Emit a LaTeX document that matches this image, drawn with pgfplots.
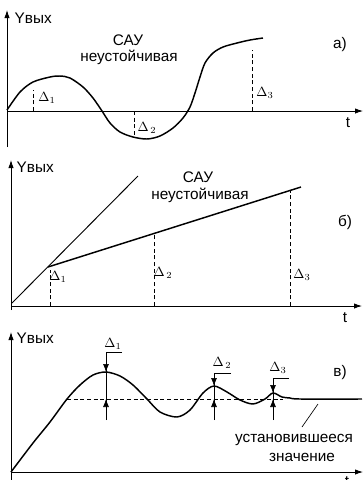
\documentclass[border=0pt]{standalone}
\usepackage{fontspec}
\setmainfont{Liberation Sans}
\usepackage{pgfplots}
\pgfplotsset{compat=1.18}
\usetikzlibrary{arrows.meta}
\pgfplotsset{
  panel/.style={x=0.75pt, y=0.75pt, axis lines=middle, ticks=none, clip=false,
    enlargelimits=false, anchor=south west,
    axis line style={line width=0.6pt, -{Latex[length=6pt,width=4pt]}}},
  curve/.style={line width=1.1pt, black, smooth},
  dsh/.style={line width=0.5pt, black, dash pattern=on 3pt off 2pt},
}
\tikzset{
  lbl/.style={font=\fontsize{11.5}{13}\selectfont},
  dl/.style={font=\fontsize{10}{11}\selectfont},
}
\begin{document}
\begin{tikzpicture}
\useasboundingbox (0,0) rectangle (273pt,-360pt);
% ---------- panel a ----------
\begin{axis}[panel, at={(5.25pt,-110.25pt)}, xmin=0, xmax=356, ymin=-36, ymax=101]
\addplot[curve] coordinates {(0,1)(13,19)(26,29)(43,34)(53,35)(63,33)(76,24)(86,13)(95,0)(103,-12)(113,-21)(126,-26)(140,-28)(153,-25)(166,-17)(176,-7)(183,4)(188,18)(193,34)(198,48)(206,58)(216,64)(230,68)(243,71)(256,73)};
\addplot[dsh] coordinates {(26,0)(26,21)};
\addplot[dsh] coordinates {(127,0)(127,-26)};
\addplot[dsh] coordinates {(245,0)(245,61)};
\node[dl] at (40,13) {$\Delta_1$};
\node[dl] at (140,-17) {$\Delta_{\,2}$};
\node[dl] at (258,18) {$\Delta_3$};
\node[lbl] at (121,71) {САУ};
\node[lbl] at (122,54) {неустойчивая};
\node[lbl] at (333,66) {а)};
\node[lbl, anchor=west] at (3,93) {Yвых};
\node[lbl] at (341,-12) {t};
\end{axis}
% ---------- panel b ----------
\begin{axis}[panel, at={(8.25pt,-232.5pt)}, xmin=0, xmax=351, ymin=-4, ymax=146]
\addplot[line width=0.7pt, black] coordinates {(1,3)(127,130)};
\addplot[line width=1.1pt, black] coordinates {(37,39)(290,119)};
\addplot[dsh] coordinates {(39,0)(39,36)};
\addplot[dsh] coordinates {(143,0)(143,71)};
\addplot[dsh] coordinates {(279,0)(279,116)};
\node[dl] at (47,29) {$\Delta_1$};
\node[dl] at (152,33) {$\Delta_{\,2}$};
\node[dl] at (291,31) {$\Delta_3$};
\node[lbl] at (187,129) {САУ};
\node[lbl] at (189,111) {неустойчивая};
\node[lbl] at (334,84) {б)};
\node[lbl, anchor=west] at (1,139) {Yвых};
\node[lbl] at (334,-12) {t};
\end{axis}
% ---------- panel c ----------
\begin{axis}[panel, at={(8.25pt,-360pt)}, xmin=0, xmax=352, ymin=-8, ymax=140]
\addplot[dsh] coordinates {(56,73)(272,73)};
\addplot[curve] coordinates {(0,0)(22,29)(39,50)(56,73)(69,87)(82,97)(95,100)(109,96)(122,87)(136,73)(149,60)(166,55)(179,62)(192,79)(203,86)(216,80)(229,72)(242,68)(254,73)(262,79)(271,75)(279,74)(289,73)(351,73)};
% measurement arrows
\addplot[line width=0.5pt, black] coordinates {(111,120)(95,120)(95,52)};
\addplot[line width=0.5pt, black, -{Latex[length=6pt,width=4.5pt]}] coordinates {(95,120)(95,100)};
\addplot[line width=0.5pt, black, -{Latex[length=6pt,width=4.5pt]}] coordinates {(95,52)(95,73)};
\addplot[line width=0.5pt, black] coordinates {(220,99)(203,99)(203,52)};
\addplot[line width=0.5pt, black, -{Latex[length=6pt,width=4.5pt]}] coordinates {(203,99)(203,86)};
\addplot[line width=0.5pt, black, -{Latex[length=6pt,width=4.5pt]}] coordinates {(203,52)(203,73)};
\addplot[line width=0.5pt, black] coordinates {(278,94)(262,94)(262,52)};
\addplot[line width=0.5pt, black, -{Latex[length=6pt,width=4.5pt]}] coordinates {(262,94)(262,79)};
\addplot[line width=0.5pt, black, -{Latex[length=6pt,width=4.5pt]}] coordinates {(262,52)(262,73)};
\addplot[line width=0.5pt, black] coordinates {(307,68)(291,45)};
\node[dl] at (102,128) {$\Delta_1$};
\node[dl] at (211,109) {$\Delta_{\,2}$};
\node[dl] at (267,104) {$\Delta_3$};
\node[lbl] at (329,99) {в)};
\node[lbl] at (283,32) {установившееся};
\node[lbl] at (291,15) {значение};
\node[lbl, anchor=west] at (1,134) {Yвых};
\node[lbl] at (336,-10) {t};
\end{axis}
\end{tikzpicture}
\end{document}
